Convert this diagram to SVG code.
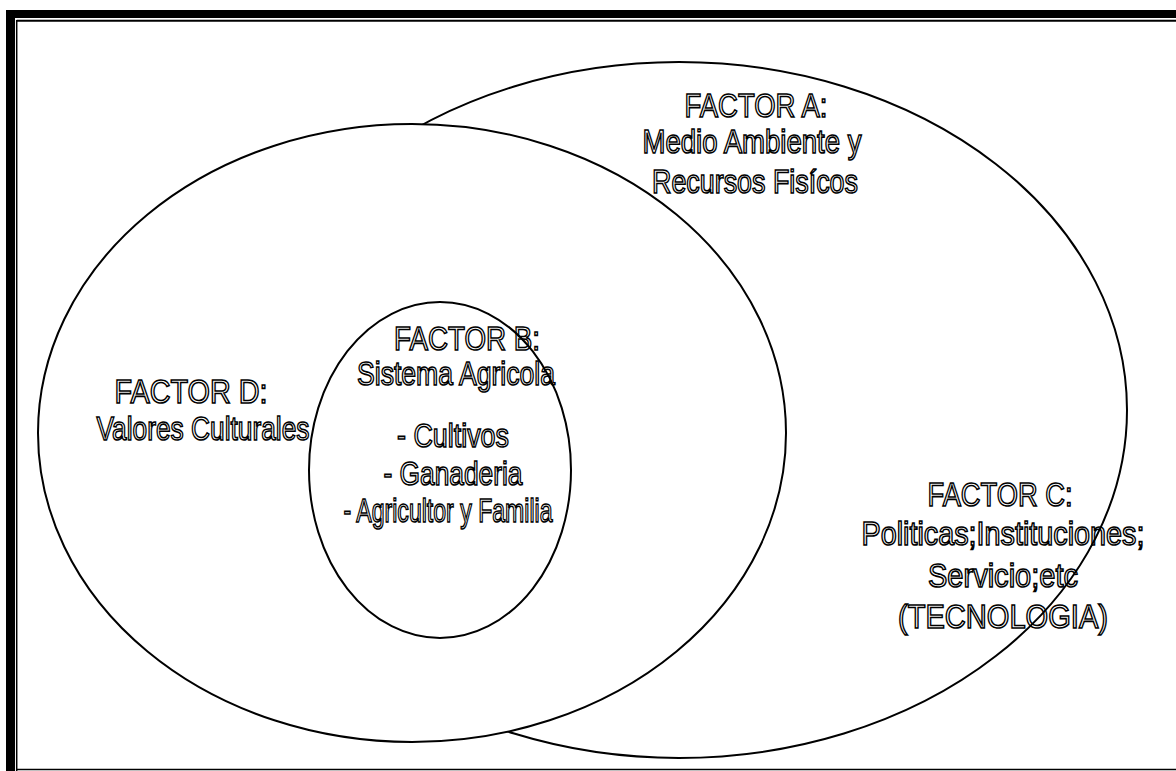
<svg xmlns="http://www.w3.org/2000/svg" width="1176" height="771" viewBox="0 0 1176 771">
  <style>
    .shape { fill: #ffffff; stroke: #000000; stroke-width: 2; }
    .lbl { font-family: "Liberation Sans", Arial, sans-serif; font-size: 34px; fill: none; stroke: #000000; stroke-width: 1.6; text-anchor: middle; }
  </style>
  <rect width="1176" height="771" fill="#ffffff"/>

  <!-- page frame -->
  <g id="frame">
    <rect x="6" y="10" width="1170" height="8" fill="#000000"/>
    <rect x="6" y="10" width="9" height="761" fill="#000000"/>
    <line x1="16.7" y1="20.7" x2="1176" y2="20.7" stroke="#000000" stroke-width="2"/>
    <line x1="16.7" y1="20" x2="16.7" y2="771" stroke="#000000" stroke-width="1.5"/>
    <line x1="16" y1="769.5" x2="1176" y2="769.5" stroke="#000000" stroke-width="1.5"/>
  </g>

  <!-- outer oval: environment and institutions -->
  <g id="factor-a-c">
    <ellipse class="shape" cx="679" cy="410" rx="448" ry="348"/>
  </g>

  <!-- cultural values oval -->
  <g id="factor-d">
    <ellipse class="shape" cx="412" cy="433" rx="374" ry="309"/>
  </g>

  <!-- farming system core -->
  <g id="factor-b">
    <ellipse class="shape" cx="440" cy="470" rx="131" ry="168"/>
  </g>

  <g id="labels">
    <text class="lbl" x="756" y="117" textLength="143" lengthAdjust="spacingAndGlyphs">FACTOR A:</text>
    <text class="lbl" x="752" y="153" textLength="219" lengthAdjust="spacingAndGlyphs">Medio Ambiente y</text>
    <text class="lbl" x="755" y="193" textLength="206" lengthAdjust="spacingAndGlyphs">Recursos Fisícos</text>

    <text class="lbl" x="467" y="350" textLength="146" lengthAdjust="spacingAndGlyphs">FACTOR B:</text>
    <text class="lbl" x="456" y="385" textLength="198" lengthAdjust="spacingAndGlyphs">Sistema Agricola</text>
    <text class="lbl" x="453" y="447" textLength="112" lengthAdjust="spacingAndGlyphs">- Cultivos</text>
    <text class="lbl" x="453" y="485" textLength="139" lengthAdjust="spacingAndGlyphs">- Ganaderia</text>
    <text class="lbl" x="448" y="522" textLength="209" lengthAdjust="spacingAndGlyphs">- Agricultor y Familia</text>

    <text class="lbl" x="191" y="403" textLength="153" lengthAdjust="spacingAndGlyphs">FACTOR D:</text>
    <text class="lbl" x="203" y="440" textLength="213" lengthAdjust="spacingAndGlyphs">Valores Culturales</text>

    <text class="lbl" x="1000" y="506" textLength="145" lengthAdjust="spacingAndGlyphs">FACTOR C:</text>
    <text class="lbl" x="1003" y="545" textLength="283" lengthAdjust="spacingAndGlyphs">Politicas;Instituciones;</text>
    <text class="lbl" x="1003" y="587" textLength="150" lengthAdjust="spacingAndGlyphs">Servicio;etc</text>
    <text class="lbl" x="1003" y="628" textLength="210" lengthAdjust="spacingAndGlyphs">(TECNOLOGIA)</text>
  </g>
</svg>
